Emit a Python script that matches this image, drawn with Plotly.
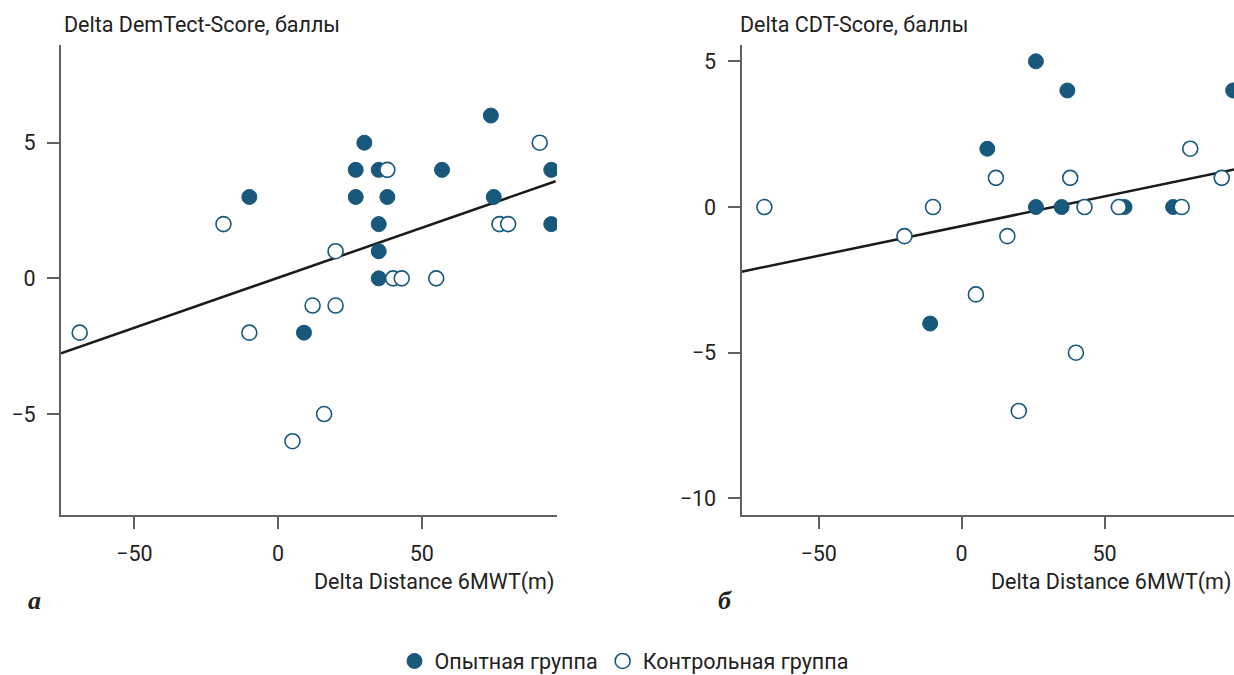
import plotly.graph_objects as go

# ---------------- data ----------------
# Panel а : Delta DemTect-Score vs Delta Distance 6MWT
a_exp_x = [-10, 30, 27, 27, 35, 38, 35, 35, 35, 57, 74, 75, 95, 95, 9]
a_exp_y = [3, 5, 4, 3, 4, 3, 2, 1, 0, 4, 6, 3, 4, 2, -2]
a_ctl_x = [-69, -19, -10, 5, 12, 16, 20, 20, 38, 40, 43, 55, 77, 80, 91]
a_ctl_y = [-2, 2, -2, -6, -1, -5, 1, -1, 4, 0, 0, 0, 2, 2, 5]
a_fit_x = [-75.5, 96.5]
a_fit_y = [-2.76, 3.58]

# Panel б : Delta CDT-Score vs Delta Distance 6MWT
b_exp_x = [26, 37, 95, 9, 26, 35, 57, 74, -11]
b_exp_y = [5, 4, 4, 2, 0, 0, 0, 0, -4]
b_ctl_x = [-69, -10, -20, 12, 16, 5, 38, 43, 55, 80, 77, 91, 40, 20]
b_ctl_y = [0, 0, -1, 1, -1, -3, 1, 0, 0, 2, 0, 1, -5, -7]
b_fit_x = [-77.0, 97.0]
b_fit_y = [-2.22, 1.32]

x_ticks = [-50, 0, 50]
a_y_ticks = [-5, 0, 5]
b_y_ticks = [-10, -5, 0, 5]

series_names = ["Опытная группа", "Контрольная группа"]
a_ytitle = "Delta DemTect-Score, баллы"
b_ytitle = "Delta CDT-Score, баллы"
x_title = "Delta Distance 6MWT(m)"
panel_labels = ["а", "б"]

# ---------------- style ----------------
W, H = 1234, 675
FONT = "Roboto, DejaVu Sans, sans-serif"
FS = 21.5
TXT = "#222222"
AX = "#606060"
BLUE = "#17587b"
MS = 15


def px(x):
    return x / W


def py(y):
    return 1 - y / H


fig = go.Figure()

for (fx, fy, ex, ey, cx, cy, xa, ya, show) in [
    (a_fit_x, a_fit_y, a_exp_x, a_exp_y, a_ctl_x, a_ctl_y, "x", "y", True),
    (b_fit_x, b_fit_y, b_exp_x, b_exp_y, b_ctl_x, b_ctl_y, "x2", "y2", False),
]:
    fig.add_trace(go.Scatter(x=fx, y=fy, mode="lines", xaxis=xa, yaxis=ya,
                             line=dict(color="#1a1a1a", width=2.5),
                             showlegend=False, hoverinfo="skip"))
    fig.add_trace(go.Scatter(x=ex, y=ey, mode="markers", xaxis=xa, yaxis=ya,
                             name=series_names[0], showlegend=show,
                             legendgroup="exp",
                             marker=dict(size=MS, color=BLUE,
                                         line=dict(color=BLUE, width=1))))
    fig.add_trace(go.Scatter(x=cx, y=cy, mode="markers", xaxis=xa, yaxis=ya,
                             name=series_names[1], showlegend=show,
                             legendgroup="ctl",
                             marker=dict(size=MS, color="white",
                                         line=dict(color=BLUE, width=1.6))))

common_x = dict(showline=True, linecolor=AX, linewidth=2, ticks="outside",
                ticklen=12, tickwidth=2, tickcolor=AX, showgrid=False,
                zeroline=False, tickvals=x_ticks,
                tickfont=dict(family=FONT, size=FS, color=TXT),
                ticklabelstandoff=6)
common_y = dict(showline=True, linecolor=AX, linewidth=2, ticks="outside",
                ticklen=12, tickwidth=2, tickcolor=AX, showgrid=False,
                zeroline=False,
                tickfont=dict(family=FONT, size=FS, color=TXT),
                ticklabelstandoff=7)

ydom = [py(515), py(45)]

fig.update_layout(
    width=W, height=H,
    margin=dict(l=0, r=0, t=0, b=0, autoexpand=False),
    paper_bgcolor="white", plot_bgcolor="white",
    font=dict(family=FONT, size=FS, color=TXT),
    xaxis=dict(domain=[px(61), px(557)], range=[-75.5, 97], anchor="y", **common_x),
    yaxis=dict(domain=ydom, range=[-8.72, 8.6], anchor="x", tickvals=a_y_ticks, **common_y),
    xaxis2=dict(domain=[px(741.5), 1.0], range=[-77.0, 95.3], anchor="y2", **common_x),
    yaxis2=dict(domain=ydom, range=[-10.57, 5.56], anchor="x2", tickvals=b_y_ticks, **common_y),
    legend=dict(orientation="h", xref="container", yref="container",
                x=px(624), xanchor="center", y=py(661), yanchor="middle",
                font=dict(family=FONT, size=FS, color=TXT), itemwidth=30,
                tracegroupgap=0, bgcolor="rgba(0,0,0,0)"),
    showlegend=True,
)

ann = []
ann.append(dict(text=a_ytitle, x=px(62), y=py(25), xref="paper", yref="paper",
                xanchor="left", yanchor="middle", showarrow=False,
                font=dict(family=FONT, size=FS, color=TXT)))
ann.append(dict(text=b_ytitle, x=px(738), y=py(25), xref="paper", yref="paper",
                xanchor="left", yanchor="middle", showarrow=False,
                font=dict(family=FONT, size=FS, color=TXT)))
ann.append(dict(text=x_title, x=px(556), y=py(582), xref="paper", yref="paper",
                xanchor="right", yanchor="middle", showarrow=False,
                font=dict(family=FONT, size=FS, color=TXT)))
ann.append(dict(text=x_title, x=px(1233), y=py(582), xref="paper", yref="paper",
                xanchor="right", yanchor="middle", showarrow=False,
                font=dict(family=FONT, size=FS, color=TXT)))
ann.append(dict(text="<b><i>" + panel_labels[0] + "</i></b>", x=px(26), y=py(600),
                xref="paper", yref="paper", xanchor="left", yanchor="middle",
                showarrow=False, font=dict(family="Liberation Serif, DejaVu Serif, serif", size=26, color=TXT)))
ann.append(dict(text="<b><i>" + panel_labels[1] + "</i></b>", x=px(716), y=py(600),
                xref="paper", yref="paper", xanchor="left", yanchor="middle",
                showarrow=False, font=dict(family="Liberation Serif, DejaVu Serif, serif", size=26, color=TXT)))
fig.update_layout(annotations=ann)

fig.write_html("out.html", config={"displayModeBar": False},
               post_script="document.body.style.margin='0px';document.body.style.overflow='hidden';")
